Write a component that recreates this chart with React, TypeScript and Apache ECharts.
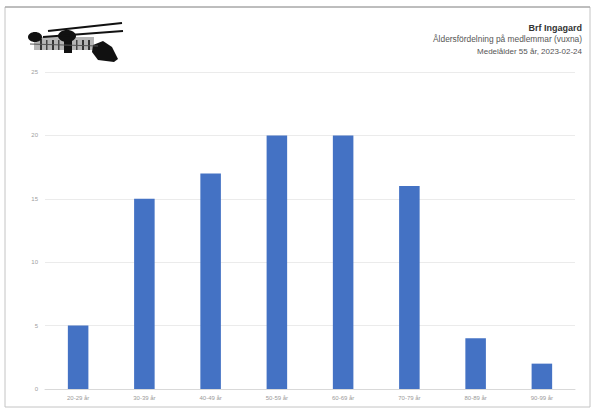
import React, { useEffect, useRef } from "react";
import * as echarts from "echarts";

const categories = ["20-29 år", "30-39 år", "40-49 år", "50-59 år", "60-69 år", "70-79 år", "80-89 år", "90-99 år"];
const counts = [5, 15, 17, 20, 20, 16, 4, 2];
const yTicks = [0, 5, 10, 15, 20, 25];
const titleLines = ["Brf Ingagard", "Åldersfördelning på medlemmar (vuxna)", "Medelålder 55 år, 2023-02-24"];

export default function App() {
  const ref = useRef<HTMLDivElement>(null);
  useEffect(() => {
    if (!ref.current) return;
    const chart = echarts.init(ref.current, undefined, { renderer: "svg" });
    const logo: any[] = [
      { type: "rect", shape: { x: 34, y: 37, width: 60, height: 13 }, style: { fill: "#b5b5b5" } },
      { type: "rect", shape: { x: 40, y: 39, width: 2, height: 11 }, style: { fill: "#333" } },
      { type: "rect", shape: { x: 46, y: 40, width: 1.5, height: 10 }, style: { fill: "#444" } },
      { type: "rect", shape: { x: 52, y: 40, width: 2, height: 10 }, style: { fill: "#333" } },
      { type: "rect", shape: { x: 58, y: 40, width: 1.5, height: 10 }, style: { fill: "#444" } },
      { type: "rect", shape: { x: 64, y: 41, width: 8, height: 12 }, style: { fill: "#111" } },
      { type: "rect", shape: { x: 76, y: 40, width: 1.5, height: 10 }, style: { fill: "#444" } },
      { type: "rect", shape: { x: 82, y: 40, width: 2, height: 10 }, style: { fill: "#333" } },
      { type: "rect", shape: { x: 88, y: 40, width: 2, height: 10 }, style: { fill: "#333" } },
      { type: "ellipse", shape: { cx: 35, cy: 37, rx: 7, ry: 5 }, style: { fill: "#111" } },
      { type: "ellipse", shape: { cx: 67, cy: 36, rx: 9, ry: 6 }, style: { fill: "#111" } },
      { type: "polygon", shape: { points: [[93, 45], [103, 41], [112, 47], [118, 59], [114, 62], [98, 60], [92, 52]] }, style: { fill: "#111" } },
      { type: "line", shape: { x1: 48, y1: 31, x2: 122, y2: 23 }, style: { stroke: "#111", lineWidth: 2.2 } },
      { type: "line", shape: { x1: 43, y1: 37, x2: 123, y2: 31 }, style: { stroke: "#111", lineWidth: 2 } },
      { type: "line", shape: { x1: 30, y1: 44, x2: 98, y2: 46 }, style: { stroke: "#555", lineWidth: 1 } },
    ];
    chart.setOption({
      animation: false,
      backgroundColor: "#ffffff",
      grid: { left: 45, right: 22, top: 72, bottom: 23, containLabel: false },
      xAxis: {
        type: "category",
        data: categories,
        axisLine: { show: true, lineStyle: { color: "#d9d9d9" } },
        axisTick: { show: false },
        axisLabel: { color: "#9a9a9a", fontSize: 6, margin: 6, fontFamily: "Liberation Sans" },
      },
      yAxis: {
        type: "value",
        min: yTicks[0],
        max: yTicks[yTicks.length - 1],
        interval: 5,
        axisLine: { show: false },
        axisTick: { show: false },
        splitLine: { lineStyle: { color: "#ebebeb" } },
        axisLabel: { color: "#a0a0a0", fontSize: 6, margin: 7, fontFamily: "Liberation Sans" },
      },
      series: [
        {
          type: "bar",
          data: counts,
          barWidth: "31%",
          itemStyle: { color: "#4472C4" },
        },
      ],
      graphic: [
        { type: "rect", shape: { x: 5, y: 7, width: 585, height: 400 }, style: { fill: "none", stroke: "#c4c4c4", lineWidth: 1 }, z: 10 },
        { type: "line", shape: { x1: 5, y1: 7, x2: 590, y2: 7 }, style: { stroke: "#9a9a9a", lineWidth: 1.2 }, z: 11 },
        ...logo,
        { type: "text", x: 582, y: 23, style: { text: titleLines[0], fontSize: 9, fontWeight: "bold", fill: "#333", textAlign: "right", fontFamily: "Liberation Sans" } },
        { type: "text", x: 582, y: 35, style: { text: titleLines[1], fontSize: 8.4, fill: "#555", textAlign: "right", fontFamily: "Liberation Sans" } },
        { type: "text", x: 582, y: 47, style: { text: titleLines[2], fontSize: 8, fill: "#555", textAlign: "right", fontFamily: "Liberation Sans" } },
      ],
    });
    return () => chart.dispose();
  }, []);
  return <div ref={ref} style={{ position: "fixed", left: 0, top: 0, width: 597, height: 412 }} />;
}
